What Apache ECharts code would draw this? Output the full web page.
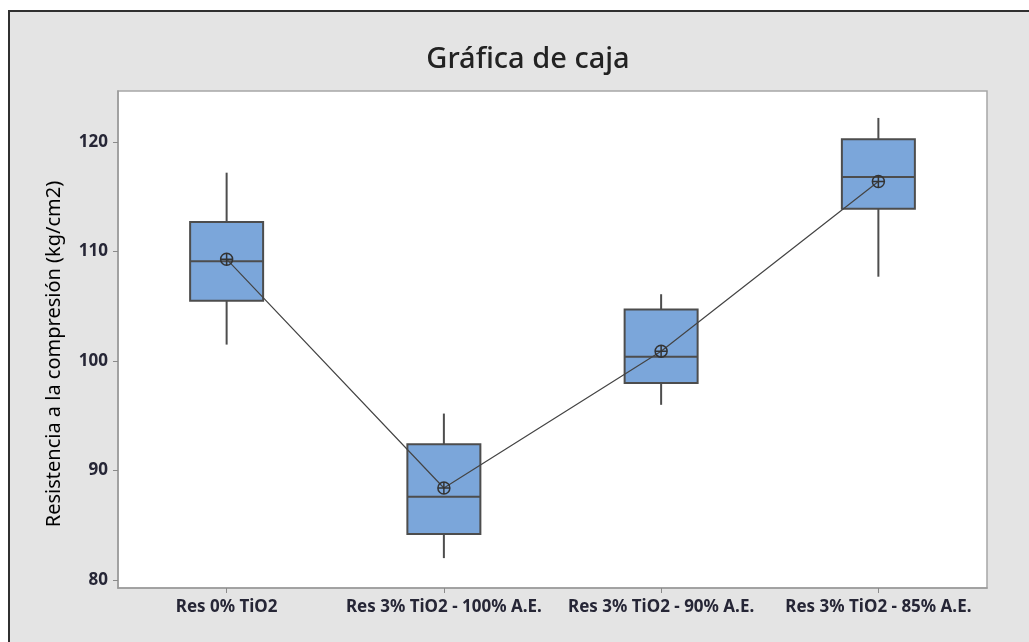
<!DOCTYPE html>
<html>
<head>
<meta charset="utf-8">
<script src="https://cdn.jsdelivr.net/npm/echarts@6/dist/echarts.min.js"></script>
<style>
html,body{margin:0;padding:0;background:#fff;}
#chart{width:1029px;height:642px;}
</style>
</head>
<body>
<div id="chart"></div>
<script>
const categories = ['Res 0% TiO2', 'Res 3% TiO2 - 100% A.E.', 'Res 3% TiO2 - 90% A.E.', 'Res 3% TiO2 - 85% A.E.'];
const whiskerLow = [101.5, 82.0, 96.0, 107.7];
const q1 = [105.5, 84.2, 98.0, 113.9];
const median = [109.1, 87.6, 100.4, 116.8];
const q3 = [112.7, 92.4, 104.7, 120.25];
const whiskerHigh = [117.2, 95.2, 106.1, 122.2];
const means = [109.3, 88.4, 100.9, 116.4];
const yTicks = [80, 90, 100, 110, 120];

const boxData = categories.map((c, i) => [i, whiskerLow[i], q1[i], median[i], q3[i], whiskerHigh[i]]);

const chart = echarts.init(document.getElementById('chart'));
const lineColor = '#4d4d4d';
const fontFam = '"Noto Sans", "Open Sans", sans-serif';

chart.setOption({
  animation: false,
  backgroundColor: '#ffffff',
  graphic: [
    { type: 'rect', z: -10, shape: { x: 9, y: 11, width: 1040, height: 660 },
      style: { fill: '#e4e4e4', stroke: '#303030', lineWidth: 2 } },
    { type: 'text', z: 10, x: 54, y: 354, rotation: Math.PI / 2,
      style: { text: 'Resistencia a la compresión (kg/cm2)', fill: '#000', font: '20px ' + fontFam,
        textAlign: 'center', textVerticalAlign: 'middle' } }
  ],
  title: {
    text: 'Gráfica de caja', left: 523, top: 40, textAlign: 'center',
    textStyle: { fontFamily: fontFam, fontSize: 29, fontWeight: 500, color: '#222' }
  },
  grid: { left: 118, right: 42, top: 91, bottom: 54, show: true, backgroundColor: '#fff',
    borderColor: '#a6a6a6', borderWidth: 1.5 },
  xAxis: {
    type: 'category', data: categories, boundaryGap: true,
    axisLine: { show: true, lineStyle: { color: '#9a9a9a', width: 1.5 } },
    axisTick: { show: true, alignWithLabel: true, length: 5, lineStyle: { color: '#8a8a8a' } },
    axisLabel: { margin: 11, interval: 0, color: '#262636', fontFamily: fontFam, fontSize: 17, fontWeight: 'bold' },
    splitLine: { show: false }
  },
  yAxis: {
    type: 'value', min: 79.27, max: 124.66,
    axisLine: { show: true, lineStyle: { color: '#9a9a9a', width: 1.5 } },
    axisTick: { show: true, length: 5, customValues: yTicks, lineStyle: { color: '#8a8a8a' } },
    axisLabel: { customValues: yTicks, margin: 10, color: '#262636', fontFamily: fontFam, fontSize: 17, fontWeight: 'bold' },
    splitLine: { show: false }
  },
  series: [
    {
      type: 'custom',
      data: boxData,
      encode: { x: 0, y: [1, 2, 3, 4, 5] },
      renderItem: function (params, api) {
        const i = api.value(0);
        const pLow = api.coord([i, api.value(1)]);
        const pQ1 = api.coord([i, api.value(2)]);
        const pMed = api.coord([i, api.value(3)]);
        const pQ3 = api.coord([i, api.value(4)]);
        const pHigh = api.coord([i, api.value(5)]);
        const bw = api.size([1, 0])[0] * 0.336;
        const x = pMed[0];
        const ls = { stroke: lineColor, lineWidth: 2 };
        return {
          type: 'group',
          children: [
            { type: 'line', shape: { x1: x, y1: pHigh[1], x2: x, y2: pQ3[1] }, style: ls },
            { type: 'line', shape: { x1: x, y1: pQ1[1], x2: x, y2: pLow[1] }, style: ls },
            { type: 'rect', shape: { x: x - bw / 2, y: pQ3[1], width: bw, height: pQ1[1] - pQ3[1] },
              style: { fill: '#7ba6da', stroke: lineColor, lineWidth: 2 } },
            { type: 'line', shape: { x1: x - bw / 2, y1: pMed[1], x2: x + bw / 2, y2: pMed[1] }, style: ls }
          ]
        };
      },
      z: 2
    },
    {
      type: 'line',
      data: means,
      z: 3,
      lineStyle: { color: '#444', width: 1.2 },
      symbol: 'path://M0,6 A6,6 0 1,1 12,6 A6,6 0 1,1 0,6 Z M6,0 L6,12 M0,6 L12,6',
      symbolSize: 12,
      itemStyle: { color: 'rgba(0,0,0,0)', borderColor: '#333', borderWidth: 1.5 },
      showSymbol: true
    }
  ]
});
</script>
</body>
</html>
